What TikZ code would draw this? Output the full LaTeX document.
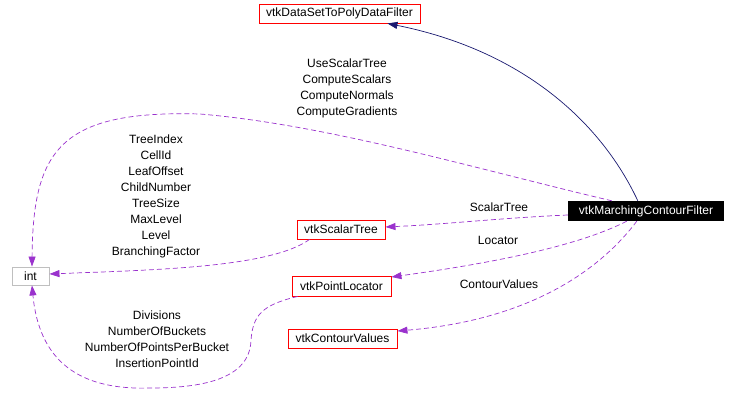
\documentclass[tikz,border=0pt]{standalone}
\usepackage{fontspec}
\setmainfont{Liberation Sans}
\usetikzlibrary{arrows.meta}
\definecolor{edgepurple}{HTML}{9A32CD}
\definecolor{edgenavy}{HTML}{191970}
\definecolor{intgray}{HTML}{BFBFBF}
\tikzset{
  every node/.style={font=\fontsize{12}{16}\selectfont, inner sep=0pt},
  cls/.style={draw=red, line width=0.9pt, fill=white, minimum height=19pt},
  mainbox/.style={fill=black, text=white, minimum height=20pt},
  graybox/.style={draw=intgray, line width=0.9pt, minimum height=18pt},
  lbl/.style={align=center, text=black},
  inherit/.style={draw=edgenavy, line width=0.7pt, -{Triangle[length=10pt,width=7pt]}},
  usage/.style={draw=edgepurple, line width=0.7pt, dash pattern=on 5pt off 3pt, -{Triangle[length=10pt,width=7pt]}},
}
\begin{document}
\begin{tikzpicture}[x=1pt,y=-1pt]
\useasboundingbox (0,0) rectangle (736,414);
% nodes
\node[cls, minimum width=161pt] (ds) at (339.5,13.5) {vtkDataSetToPolyDataFilter};
\node[mainbox, minimum width=156pt] (mcf) at (646,211) {vtkMarchingContourFilter};
\node[cls, minimum width=88pt] (st) at (341,229.5) {vtkScalarTree};
\node[cls, minimum width=99pt, minimum height=20pt] (pl) at (341.5,286) {vtkPointLocator};
\node[cls, minimum width=109pt] (cv) at (342.5,338.5) {vtkContourValues};
\node[graybox, minimum width=37pt] (int) at (30.5,276) {int};
% labels
\node[lbl] (l1) at (347,88) {UseScalarTree\\ComputeScalars\\ComputeNormals\\ComputeGradients};
\node[lbl] (l2) at (156,196) {TreeIndex\\CellId\\LeafOffset\\ChildNumber\\TreeSize\\MaxLevel\\Level\\BranchingFactor};
\node[lbl] (l3) at (157,339.5) {Divisions\\NumberOfBuckets\\NumberOfPointsPerBucket\\InsertionPointId};
\node[lbl] (l4) at (499,207) {ScalarTree};
\node[lbl] (l5) at (498,240) {Locator};
\node[lbl] (l6) at (499,284) {ContourValues};
% edges
\draw[inherit] ([xshift=70pt]mcf.north west) .. controls (600,120) and (520,50) .. ([xshift=-33pt]ds.south east);
\draw[usage] ([xshift=44pt]mcf.north west) .. controls (480,170) and (330,125) .. (200,114)
  .. controls (60,110) and (33,150) .. ([xshift=1.5pt]int.north);
\draw[usage] ([yshift=-4pt]mcf.west) .. controls (500,218) and (450,224) .. ([yshift=2.5pt]st.east);
\draw[usage] ([xshift=59pt]mcf.south west) .. controls (580,245) and (500,262) .. ([yshift=9pt]pl.east);
\draw[usage] ([xshift=69pt]mcf.south west) .. controls (600,270) and (530,320) .. ([yshift=7.5pt]cv.east);
\draw[usage] ([xshift=13pt]st.south west) .. controls (270,268) and (150,270) .. ([yshift=2pt]int.east);
\draw[usage] ([xshift=6pt]pl.south west) .. controls (262,305) and (253,315) .. (251,340)
  .. controls (250,380) and (200,388) .. (150,388)
  .. controls (90,390) and (40,370) .. ([xshift=1.5pt]int.south);
\end{tikzpicture}
\end{document}
